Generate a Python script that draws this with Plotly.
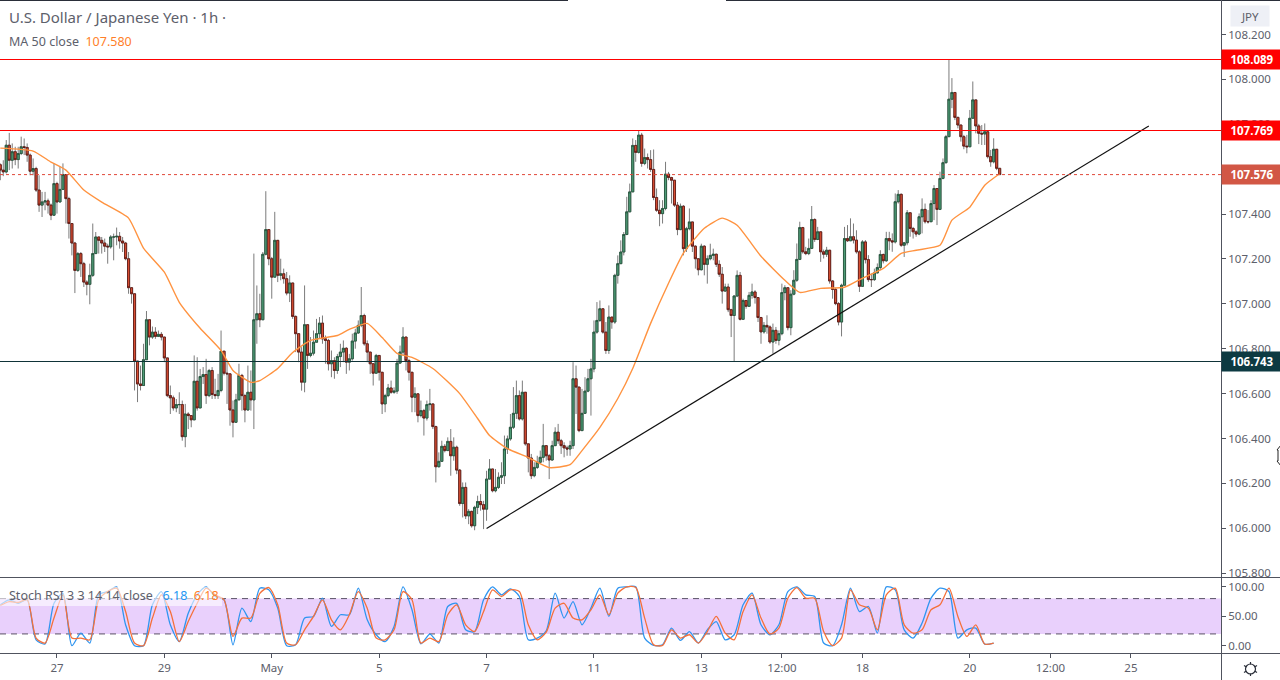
import plotly.graph_objects as go

# candles (open = previous close)
closes = [
    107.596, 107.588, 107.707, 107.640, 107.678, 107.643, 107.670, 107.700, 107.697, 107.663,
    107.591, 107.603, 107.507, 107.440, 107.454, 107.459, 107.440, 107.395, 107.536, 107.454,
    107.510, 107.576, 107.469, 107.358, 107.271, 107.149, 107.224, 107.179, 107.097, 107.087,
    107.127, 107.224, 107.298, 107.283, 107.271, 107.257, 107.254, 107.298, 107.298, 107.301,
    107.280, 107.271, 107.201, 107.072, 107.045, 106.745, 106.643, 106.636, 106.751, 106.929,
    106.852, 106.874, 106.855, 106.864, 106.852, 106.759, 106.591, 106.581, 106.536, 106.551,
    106.551, 106.408, 106.509, 106.502, 106.483, 106.655, 106.536, 106.676, 106.685, 106.591,
    106.703, 106.596, 106.591, 106.614, 106.789, 106.691, 106.688, 106.527, 106.472, 106.572,
    106.681, 106.591, 106.527, 106.606, 106.572, 106.929, 106.956, 106.929, 107.221, 107.331,
    107.201, 107.119, 107.283, 107.127, 107.134, 107.112, 107.048, 107.093, 106.944, 106.867,
    106.785, 106.651, 106.907, 106.770, 106.780, 106.829, 106.867, 106.914, 106.844, 106.837,
    106.733, 106.747, 106.703, 106.765, 106.785, 106.802, 106.740, 106.755, 106.834, 106.870,
    106.904, 106.948, 106.822, 106.785, 106.733, 106.691, 106.770, 106.695, 106.554, 106.591,
    106.625, 106.606, 106.611, 106.736, 106.785, 106.852, 106.747, 106.695, 106.584, 106.599,
    106.502, 106.524, 106.491, 106.551, 106.554, 106.453, 106.274, 106.298, 106.365, 106.346,
    106.387, 106.323, 106.361, 106.259, 106.110, 106.182, 106.055, 106.075, 106.011, 106.093,
    106.119, 106.105, 106.085, 106.219, 106.264, 106.167, 106.182, 106.227, 106.234, 106.353,
    106.398, 106.450, 106.512, 106.591, 106.487, 106.606, 106.376, 106.313, 106.234, 106.271,
    106.294, 106.316, 106.368, 106.323, 106.304, 106.368, 106.428, 106.390, 106.368, 106.358,
    106.353, 106.368, 106.666, 106.629, 106.435, 106.512, 106.611, 106.666, 106.710, 106.874,
    106.926, 106.978, 106.874, 106.792, 106.941, 106.919, 107.127, 107.179, 107.231, 107.309,
    107.410, 107.499, 107.706, 107.675, 107.752, 107.626, 107.652, 107.643, 107.599, 107.474,
    107.417, 107.402, 107.425, 107.578, 107.563, 107.551, 107.440, 107.331, 107.435, 107.246,
    107.335, 107.365, 107.257, 107.201, 107.152, 107.257, 107.176, 107.201, 107.216, 107.221,
    107.176, 107.132, 107.057, 107.075, 106.974, 106.948, 107.035, 107.127, 106.931, 107.015,
    106.989, 107.038, 107.053, 107.028, 106.939, 106.875, 106.904, 106.897, 106.830, 106.882,
    106.837, 106.867, 107.050, 107.072, 106.894, 107.043, 107.105, 107.198, 107.340, 107.232,
    107.224, 107.247, 107.376, 107.287, 107.321, 107.232, 107.221, 107.239, 107.102, 107.064,
    107.001, 106.919, 107.083, 107.291, 107.281, 107.299, 107.284, 107.232, 107.078, 107.276,
    107.197, 107.108, 107.108, 107.138, 107.162, 107.220, 107.192, 107.291, 107.281, 107.276,
    107.455, 107.488, 107.261, 107.272, 107.406, 107.336, 107.321, 107.311, 107.388, 107.421,
    107.366, 107.366, 107.447, 107.514, 107.421, 107.559, 107.629, 107.745, 107.912, 107.942,
    107.831, 107.797, 107.745, 107.703, 107.700, 107.827, 107.909, 107.793, 107.760, 107.757,
    107.767, 107.656, 107.633, 107.689, 107.604, 107.576,
]

highs = [
    107.626, 107.640, 107.730, 107.762, 107.715, 107.700, 107.700, 107.745, 107.737, 107.715,
    107.670, 107.648, 107.611, 107.573, 107.499, 107.499, 107.469, 107.447, 107.626, 107.544,
    107.611, 107.626, 107.573, 107.477, 107.358, 107.276, 107.231, 107.231, 107.187, 107.105,
    107.179, 107.358, 107.320, 107.283, 107.298, 107.291, 107.268, 107.306, 107.313, 107.340,
    107.320, 107.298, 107.276, 107.231, 107.075, 107.045, 106.740, 106.725, 106.822, 106.968,
    106.929, 106.899, 106.896, 106.881, 106.874, 106.852, 106.759, 106.636, 106.591, 106.576,
    106.606, 106.569, 106.554, 106.517, 106.502, 106.770, 106.762, 106.710, 106.718, 106.755,
    106.710, 106.718, 106.666, 106.688, 106.881, 106.789, 106.748, 106.688, 106.569, 106.599,
    106.733, 106.688, 106.599, 106.725, 106.703, 107.224, 107.082, 107.045, 107.231, 107.502,
    107.328, 107.209, 107.410, 107.283, 107.201, 107.157, 107.142, 107.127, 107.093, 106.948,
    106.867, 106.807, 107.082, 106.907, 106.852, 106.881, 106.933, 106.941, 106.948, 106.859,
    106.844, 106.792, 106.762, 106.777, 106.822, 106.837, 106.807, 106.777, 106.867, 106.889,
    106.926, 107.075, 106.956, 106.837, 106.785, 106.733, 106.777, 106.770, 106.695, 106.599,
    106.643, 106.658, 106.628, 106.755, 106.814, 106.896, 106.852, 106.755, 106.695, 106.628,
    106.599, 106.569, 106.532, 106.569, 106.621, 106.554, 106.457, 106.338, 106.390, 106.375,
    106.405, 106.442, 106.405, 106.368, 106.264, 106.204, 106.204, 106.085, 106.078, 106.100,
    106.145, 106.152, 106.122, 106.256, 106.308, 106.264, 106.264, 106.249, 106.294, 106.413,
    106.413, 106.509, 106.629, 106.658, 106.614, 106.658, 106.606, 106.376, 106.331, 106.294,
    106.323, 106.346, 106.465, 106.368, 106.331, 106.390, 106.450, 106.465, 106.398, 106.383,
    106.368, 106.390, 106.740, 106.725, 106.629, 106.621, 106.673, 106.710, 106.755, 106.926,
    107.008, 107.015, 106.978, 106.919, 106.993, 106.941, 107.134, 107.216, 107.283, 107.320,
    107.477, 107.536, 107.737, 107.730, 107.774, 107.762, 107.692, 107.670, 107.685, 107.688,
    107.514, 107.462, 107.462, 107.633, 107.588, 107.566, 107.551, 107.454, 107.447, 107.440,
    107.343, 107.425, 107.335, 107.261, 107.201, 107.268, 107.261, 107.216, 107.268, 107.246,
    107.224, 107.194, 107.164, 107.090, 107.090, 106.978, 107.038, 107.149, 107.142, 107.023,
    107.015, 107.053, 107.090, 107.061, 107.028, 106.942, 106.919, 106.949, 106.904, 106.912,
    106.897, 106.882, 107.090, 107.083, 107.072, 107.061, 107.150, 107.269, 107.366, 107.343,
    107.254, 107.291, 107.436, 107.381, 107.343, 107.321, 107.242, 107.254, 107.239, 107.105,
    107.072, 107.008, 107.090, 107.343, 107.351, 107.381, 107.358, 107.328, 107.239, 107.284,
    107.284, 107.217, 107.135, 107.157, 107.180, 107.239, 107.224, 107.321, 107.321, 107.314,
    107.492, 107.507, 107.492, 107.276, 107.418, 107.406, 107.343, 107.328, 107.403, 107.470,
    107.447, 107.418, 107.462, 107.529, 107.514, 107.589, 107.648, 107.753, 108.087, 108.006,
    107.942, 107.834, 107.797, 107.753, 107.753, 107.864, 107.991, 107.909, 107.802, 107.797,
    107.804, 107.770, 107.686, 107.738, 107.689, 107.604,
]

lows = [
    107.551, 107.569, 107.581, 107.596, 107.603, 107.618, 107.603, 107.663, 107.663, 107.633,
    107.573, 107.573, 107.499, 107.410, 107.387, 107.417, 107.402, 107.373, 107.417, 107.402,
    107.462, 107.507, 107.358, 107.291, 107.216, 107.048, 107.142, 107.120, 107.075, 107.038,
    106.998, 107.120, 107.224, 107.224, 107.224, 107.231, 107.179, 107.246, 107.194, 107.261,
    107.246, 107.231, 107.194, 107.045, 107.001, 106.614, 106.562, 106.614, 106.636, 106.807,
    106.815, 106.844, 106.844, 106.852, 106.837, 106.740, 106.584, 106.509, 106.524, 106.517,
    106.509, 106.390, 106.361, 106.442, 106.450, 106.483, 106.524, 106.591, 106.643, 106.554,
    106.584, 106.576, 106.576, 106.576, 106.606, 106.681, 106.554, 106.457, 106.405, 106.472,
    106.591, 106.524, 106.472, 106.524, 106.524, 106.442, 106.822, 106.896, 106.993, 107.216,
    107.172, 107.023, 107.119, 107.097, 107.105, 107.090, 107.038, 107.008, 106.933, 106.785,
    106.740, 106.613, 106.606, 106.710, 106.762, 106.770, 106.829, 106.844, 106.822, 106.733,
    106.703, 106.673, 106.666, 106.688, 106.718, 106.740, 106.688, 106.703, 106.747, 106.800,
    106.867, 106.896, 106.814, 106.740, 106.688, 106.636, 106.695, 106.658, 106.509, 106.517,
    106.584, 106.599, 106.599, 106.599, 106.733, 106.770, 106.703, 106.658, 106.517, 106.517,
    106.472, 106.494, 106.413, 106.480, 106.524, 106.442, 106.204, 106.271, 106.301, 106.338,
    106.346, 106.234, 106.301, 106.241, 106.100, 106.048, 106.041, 106.018, 106.003, 105.991,
    106.063, 106.078, 105.996, 106.033, 106.219, 106.160, 106.160, 106.175, 106.197, 106.197,
    106.331, 106.390, 106.442, 106.487, 106.480, 106.480, 106.368, 106.249, 106.219, 106.227,
    106.264, 106.286, 106.294, 106.301, 106.219, 106.301, 106.368, 106.376, 106.331, 106.316,
    106.323, 106.323, 106.353, 106.509, 106.428, 106.435, 106.554, 106.606, 106.502, 106.695,
    106.867, 106.919, 106.867, 106.777, 106.777, 106.889, 106.911, 107.090, 107.179, 107.216,
    107.306, 107.410, 107.499, 107.633, 107.670, 107.611, 107.618, 107.603, 107.588, 107.462,
    107.410, 107.346, 107.358, 107.417, 107.551, 107.447, 107.432, 107.306, 107.328, 107.216,
    107.231, 107.328, 107.231, 107.157, 107.127, 107.149, 107.127, 107.090, 107.194, 107.194,
    107.164, 107.120, 107.001, 107.053, 106.963, 106.852, 106.745, 107.030, 106.926, 106.978,
    106.978, 106.986, 107.023, 107.001, 106.919, 106.822, 106.867, 106.867, 106.822, 106.778,
    106.822, 106.815, 106.860, 107.016, 106.882, 106.860, 107.038, 107.098, 107.195, 107.224,
    107.217, 107.217, 107.244, 107.276, 107.284, 107.187, 107.202, 107.209, 107.090, 107.023,
    106.994, 106.904, 106.855, 107.083, 107.276, 107.281, 107.269, 107.224, 107.053, 107.075,
    107.180, 107.098, 107.075, 107.102, 107.135, 107.150, 107.180, 107.187, 107.239, 107.232,
    107.269, 107.447, 107.254, 107.209, 107.261, 107.299, 107.291, 107.299, 107.306, 107.314,
    107.358, 107.358, 107.366, 107.373, 107.351, 107.418, 107.555, 107.626, 107.812, 107.872,
    107.819, 107.782, 107.723, 107.689, 107.671, 107.700, 107.827, 107.760, 107.712, 107.708,
    107.708, 107.648, 107.611, 107.626, 107.596, 107.574,
]

# MA 50, read at these bars
ma_bars = [0, 11, 17, 22, 28, 34, 43, 48, 55, 60, 67, 74, 78, 84, 87, 93, 98, 104, 113, 117,
           123, 128, 133, 138, 145, 154, 160, 164, 170, 177, 184, 191, 195, 201, 207, 212,
           218, 224, 229, 236, 242, 247, 255, 263, 268, 275, 283, 289, 296, 302, 307, 315,
           319, 325, 330, 335]
ma_vals = [107.694, 107.681, 107.632, 107.596, 107.507, 107.453, 107.382, 107.248, 107.141,
           107.007, 106.891, 106.792, 106.703, 106.650, 106.658, 106.712, 106.783, 106.837,
           106.859, 106.886, 106.913, 106.850, 106.779, 106.761, 106.712, 106.600, 106.489,
           106.413, 106.355, 106.315, 106.270, 106.283, 106.346, 106.449, 106.578, 106.712,
           106.913, 107.092, 107.226, 107.337, 107.382, 107.350, 107.212, 107.105, 107.051,
           107.069, 107.074, 107.114, 107.158, 107.225, 107.239, 107.261, 107.373, 107.431,
           107.529, 107.580]

# stoch rsi, one reading every third bar
stoch_k = [69.5, 78, 72, 78, 10, 3, 72, 89, 0, 21.4, 4.5, 86.4, 92, 100, 35.5, 0, 0, 69.5, 92, 35.5,
           7, 55, 86.4, 100, 83.6, 78, 1.6, 63.8, 41, 97.7, 94.9, 63.8, 0, 1.6, 46.9, 49.7, 80.7,
           32.7, 52.5, 52.5, 97.7, 44, 18.6, 7, 32.7, 100, 61, 3.3, 19.7, 4.5, 66.6, 72, 27, 24,
           78, 100,
           86.4, 96.6, 83.6, 10, 13, 25.4, 89.2, 46.9, 75, 35.5, 63.8, 97.7, 49.7, 97.7, 100, 100,
           13, 0.5, 1.6, 30, 9, 24, 4.5, 27, 41, 10, 18.6, 69.5, 89.2, 35.5, 18.6, 35.5, 92, 100,
           86.4, 83.6, 4.5, 0, 35.5, 97.7, 58, 66.6, 21.4, 100, 94.9, 27, 13, 38.4, 80.7, 97.7,
           92, 13, 27, 30, 2.8, 4.5]
stoch_d = [68.3, 75, 73.4, 78, 13, 4.5, 46.9, 86.4, 13, 13, 10, 78, 92, 97.7, 58, 4.5, 0, 46.9, 86.4,
           58, 7, 41, 72, 97.7, 86.4, 78, 15.8, 46.9, 46.9, 89, 98.8, 69.5, 4.5, 1.6, 27, 49.7, 78,
           44, 27, 52.5, 92, 63.8, 13, 10, 27, 92, 78, 4.5, 13, 7, 52.5, 69.5, 35.5, 24, 58, 94.9,
           83.6, 94.9, 92, 35.5, 10, 23, 63.8, 72, 46.9, 44, 61, 86.4, 52.5, 89.2, 100, 98.8, 46.9,
           1.6, 0.5, 27, 13, 18.6, 4.5, 24, 49.7, 21.4, 10, 58, 86.4, 46.9, 19.7, 30, 80.7, 98.8,
           80.7, 80.7, 24, 0, 13, 94.9, 69.5, 63.8, 27, 86.4, 97.7, 35.5, 21.4, 27, 61, 69.5, 97.7,
           49.7, 15.8, 35.5, 2.8, 4.5]

# drawn levels and the trend line (the 107.769 line sits a touch above its tag value)
red_levels = [108.089, 107.7725]
red_labels = ["108.089", "107.769"]
last_price = 107.576
black_level = 106.743
trend_bars = [163, 385]
trend_vals = [105.999, 107.793]

tick_bars = [19, 55, 91, 127, 163, 199, 235, 262, 289, 325, 352, 379]
tick_labels = ["27", "29", "May", "5", "7", "11", "13", "12:00", "18", "20", "12:00", "25"]
price_ticks = [105.8, 106.0, 106.2, 106.4, 106.6, 106.8, 107.0, 107.2, 107.4, 107.6, 107.8, 108.0, 108.2]
stoch_ticks = [0, 50, 100]

FONT = "Noto Sans"
GREY = "#5d606b"
PLOT_W = 1221.0
PLOT_H = 652.0
MARGIN_T = 1


def px(x):
    return x / PLOT_W


def py(y):
    return (PLOT_H + MARGIN_T - y) / PLOT_H


bars = list(range(len(closes)))
opens = [107.62] + closes[:-1]
body_hi = [max(o, c) for o, c in zip(opens, closes)]
body_lo = [min(o, c) for o, c in zip(opens, closes)]
stoch_bars = list(range(0, 3 * len(stoch_k), 3))

fig = go.Figure()

# wicks first, grey; then the bodies with their dark border
fig.add_trace(go.Candlestick(
    x=bars, open=opens, high=highs, low=lows, close=closes,
    increasing=dict(line=dict(color="#7b7b7b", width=1), fillcolor="#7b7b7b"),
    decreasing=dict(line=dict(color="#7b7b7b", width=1), fillcolor="#7b7b7b"),
    whiskerwidth=0, hoverinfo="skip", showlegend=False,
))
fig.add_trace(go.Candlestick(
    x=bars, open=opens, high=body_hi, low=body_lo, close=closes,
    increasing=dict(line=dict(color="#1f5238", width=0.8), fillcolor="#4f9c77"),
    decreasing=dict(line=dict(color="#5c1410", width=0.8), fillcolor="#d84e32"),
    whiskerwidth=0, showlegend=False,
))
fig.add_trace(go.Scatter(x=ma_bars, y=ma_vals, mode="lines", showlegend=False,
                         line=dict(color="#ff9340", width=1.4, shape="spline", smoothing=0.5)))
fig.add_trace(go.Scatter(x=trend_bars, y=trend_vals, mode="lines", showlegend=False,
                         line=dict(color="#111111", width=1.2)))
fig.add_trace(go.Scatter(x=stoch_bars, y=stoch_k, mode="lines", yaxis="y2", showlegend=False,
                         line=dict(color="#2f95f0", width=1.3, shape="spline", smoothing=0.7)))
fig.add_trace(go.Scatter(x=stoch_bars, y=stoch_d, mode="lines", yaxis="y2", showlegend=False,
                         line=dict(color="#f5703a", width=1.3, shape="spline", smoothing=0.7)))

shapes = []
# levels
for lvl in red_levels:
    shapes.append(dict(type="line", xref="paper", x0=0, x1=1, yref="y", y0=lvl, y1=lvl,
                       line=dict(color="#ff0000", width=1)))
shapes.append(dict(type="line", xref="paper", x0=0, x1=1, yref="y", y0=last_price, y1=last_price,
                   line=dict(color="#e0483a", width=1, dash="dot")))
shapes.append(dict(type="line", xref="paper", x0=0, x1=1, yref="y", y0=black_level, y1=black_level,
                   line=dict(color="#0f3338", width=1)))
# stoch band
shapes.append(dict(type="rect", xref="paper", x0=0, x1=1, yref="y2", y0=20, y1=80, layer="below",
                   line=dict(width=0), fillcolor="#e9d0fc"))
for lvl in (20, 80):
    shapes.append(dict(type="line", xref="paper", x0=0, x1=1, yref="y2", y0=lvl, y1=lvl, layer="below",
                       line=dict(color="#5a5266", width=1, dash="6px,5px")))
# frame lines
for x0, x1 in ((0, 568), (726, 1280)):
    shapes.append(dict(type="line", xref="paper", yref="paper", x0=px(x0), x1=px(x1), y0=py(0.5), y1=py(0.5),
                       line=dict(color="#2a2e39", width=1)))
for y in (577.5, 653.5):
    shapes.append(dict(type="line", xref="paper", yref="paper", x0=0, x1=px(1280), y0=py(y), y1=py(y),
                       line=dict(color="#50535e", width=1)))
shapes.append(dict(type="line", xref="paper", yref="paper", x0=px(1221.5), x1=px(1221.5), y0=py(0), y1=py(680),
                   line=dict(color="#50535e", width=1)))
# pale box behind the stoch legend
shapes.append(dict(type="rect", xref="paper", yref="paper", x0=0, x1=px(222), y0=py(606), y1=py(587),
                   line=dict(width=0), fillcolor="rgba(255,255,255,0.6)"))
# settings icon
shapes.append(dict(type="circle", xref="paper", yref="paper", x0=px(1245.5), x1=px(1255.5), y0=py(674), y1=py(664),
                   line=dict(color="#2a2e39", width=1.2)))
for xa, ya, xb, yb in ((1250.5, 662, 1250.5, 664.5), (1250.5, 673.5, 1250.5, 676),
                       (1244, 665.5, 1246.5, 667), (1254.5, 671, 1257, 672.5),
                       (1244, 672.5, 1246.5, 671), (1254.5, 667, 1257, 665.5)):
    shapes.append(dict(type="line", xref="paper", yref="paper", x0=px(xa), x1=px(xb), y0=py(ya), y1=py(yb),
                       line=dict(color="#2a2e39", width=1.2)))
# bit of mouse cursor on the right edge
shapes.append(dict(type="path", xref="paper", yref="paper",
                   path="M %f,%f L %f,%f L %f,%f L %f,%f L %f,%f L %f,%f" % (
                       px(1281), py(445), px(1277), py(450), px(1278), py(450),
                       px(1278), py(461), px(1277), py(461), px(1281), py(466)),
                   line=dict(color="#222222", width=1), fillcolor="#ffffff"))


def tag(value, label, color):
    return dict(xref="paper", yref="y", x=1, y=value, xanchor="left", yanchor="middle",
                text="<b>%s</b>" % label, showarrow=False, width=58, height=17, align="center",
                bgcolor=color, font=dict(family=FONT, size=11.5, color="#ffffff"))


annotations = [
    tag(red_levels[0], red_labels[0], "#ff0000"),
    tag(red_levels[1], red_labels[1], "#ff0000"),
    tag(last_price, "%.3f" % last_price, "#d25745"),
    tag(black_level, "%.3f" % black_level, "#0d3a42"),
    dict(xref="paper", yref="paper", x=px(8), y=py(17), xanchor="left", yanchor="middle", showarrow=False,
         borderpad=0, text="U.S. Dollar / Japanese Yen · 1h ·", font=dict(family=FONT, size=15, color=GREY)),
    dict(xref="paper", yref="paper", x=px(8), y=py(42), xanchor="left", yanchor="middle", showarrow=False,
         borderpad=0, text='MA 50 close  <span style="color:#ff7f2a">107.580</span>',
         font=dict(family=FONT, size=12.5, color=GREY)),
    dict(xref="paper", yref="paper", x=px(8), y=py(595), xanchor="left", yanchor="middle", showarrow=False,
         borderpad=0, text='Stoch RSI 3 3 14 14 close   <span style="color:#2196f3">6.18</span>  '
                           '<span style="color:#ff7f2a">6.18</span>',
         font=dict(family=FONT, size=12.5, color=GREY)),
    dict(xref="paper", yref="paper", x=px(1250), y=py(16), xanchor="center", yanchor="middle", showarrow=False,
         text="JPY", bgcolor="#eef0f6", width=36, height=18, font=dict(family=FONT, size=11.5, color=GREY)),
]

tick_font = dict(family=FONT, size=11.5, color=GREY)

fig.update_layout(
    width=1280, height=680, autosize=False,
    margin=dict(l=0, r=59, t=MARGIN_T, b=27),
    paper_bgcolor="#ffffff", plot_bgcolor="#ffffff",
    boxmode="overlay", boxgap=0,
    hovermode=False,
    xaxis=dict(
        range=[-0.1, 409.2], anchor="y2", rangeslider=dict(visible=False), showgrid=False, zeroline=False,
        tickmode="array", tickvals=tick_bars, ticktext=tick_labels,
        ticks="outside", ticklen=4, tickcolor="#50535e", tickfont=tick_font, showline=False,
    ),
    yaxis=dict(
        domain=[(PLOT_H + MARGIN_T - 577) / PLOT_H, 1], range=[105.7826, 108.3497], side="right", anchor="x",
        showgrid=False, zeroline=False, showline=False,
        tickmode="array", tickvals=price_ticks, ticktext=["%.3f" % t for t in price_ticks],
        ticks="outside", ticklen=4, tickcolor="#50535e", tickfont=tick_font,
    ),
    yaxis2=dict(
        domain=[0, (PLOT_H + MARGIN_T - 578) / PLOT_H], range=[-12.4, 115], side="right", anchor="x",
        showgrid=False, zeroline=False, showline=False,
        tickmode="array", tickvals=stoch_ticks, ticktext=["%.2f" % t for t in stoch_ticks],
        ticks="outside", ticklen=4, tickcolor="#50535e", tickfont=tick_font,
    ),
    shapes=shapes,
    annotations=annotations,
)

fig.write_html("out.html", config={"displayModeBar": False},
               post_script="document.body.style.margin='0';document.body.style.overflow='hidden';")
